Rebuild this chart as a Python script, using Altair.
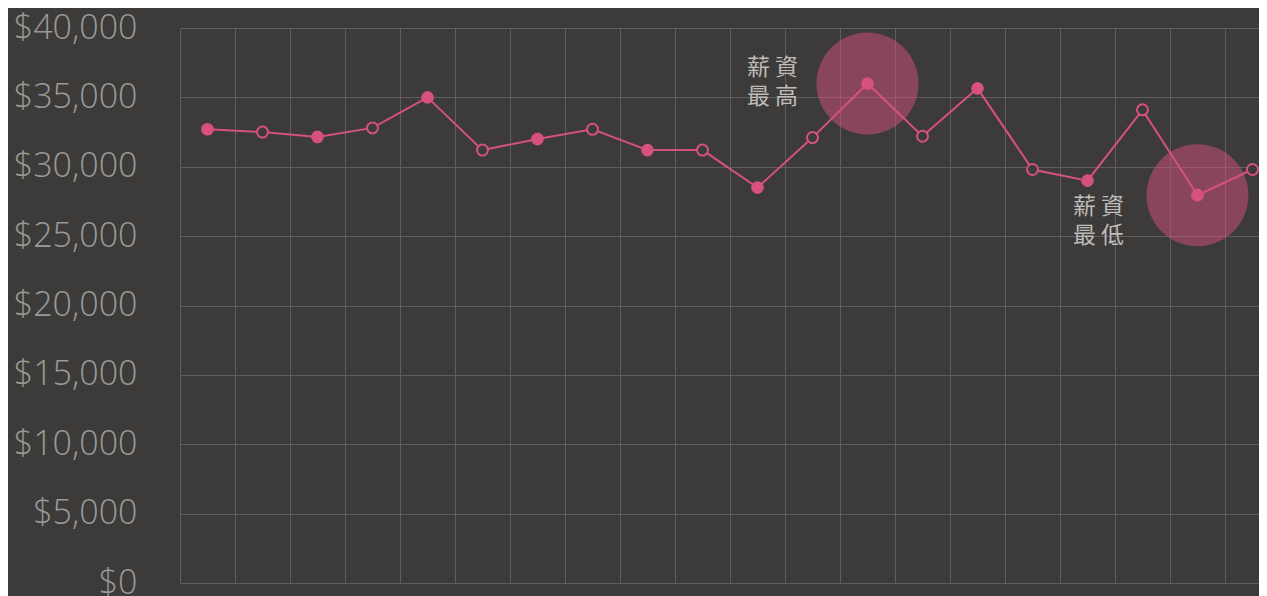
import altair as alt
import pandas as pd

# ---- data ----
periods = list(range(20))
salary = [32700, 32500, 32150, 32800, 35000, 31200, 32000, 32700, 31200, 31200,
          28500, 32100, 36000, 32200, 35650, 29800, 29000, 34100, 27950, 29800]
high_label = "薪 資\n最 高"
low_label = "薪 資\n最 低"

df = pd.DataFrame({"idx": periods, "salary": salary})

BG = "#3d3b39"
PINK = "#d6517e"
GRID = "#605e5c"

PLOT_W = 1079   # visible plot width; each period band is 55 px wide, right edge is cut
BAND = 55

x_enc = alt.X(
    "pos:Q",
    scale=alt.Scale(domain=[0, PLOT_W / BAND], nice=False, zero=False),
    axis=alt.Axis(title=None, labels=False, ticks=False, domain=False,
                  values=periods, grid=True, gridColor=GRID, gridWidth=1),
)
y_enc = alt.Y(
    "salary:Q",
    scale=alt.Scale(domain=[0, 40000]),
    axis=alt.Axis(title=None, values=list(range(0, 40001, 5000)), format="$,.0f",
                  ticks=False, tickSize=0, domain=False, labelPadding=43,
                  labelFont="Open Sans", labelFontWeight=300, labelFontSize=34,
                  labelColor="#9b9a98", grid=True, gridColor=GRID, gridWidth=1),
)

base = alt.Chart(df).transform_calculate(pos="datum.idx + 0.5").encode(x=x_enc, y=y_enc)

ext = base.transform_joinaggregate(smax="max(salary)", smin="min(salary)")

highlight = ext.transform_filter(
    (alt.datum.salary == alt.datum.smax) | (alt.datum.salary == alt.datum.smin)
).mark_circle(size=10400, color=PINK, opacity=0.5)

line = base.mark_line(color=PINK, strokeWidth=2)

filled = base.transform_filter(alt.datum.idx % 2 == 0).mark_circle(
    size=160, color=PINK, opacity=1
)
hollow = base.transform_filter(alt.datum.idx % 2 == 1).mark_point(
    shape="circle", size=121, stroke=PINK, strokeWidth=2, fill=BG, filled=False,
    fillOpacity=1, opacity=1
)

text_style = dict(font="Noto Sans CJK TC", fontSize=23, color="#bebcb9",
                  align="center", baseline="middle", lineBreak="\n", lineHeight=29)

high_text = ext.transform_filter(alt.datum.salary == alt.datum.smax).mark_text(
    dx=-95, dy=-16, **text_style
).encode(text=alt.value(high_label))

low_text = ext.transform_filter(alt.datum.salary == alt.datum.smin).mark_text(
    dx=-99, dy=12, **text_style
).encode(text=alt.value(low_label))

chart = alt.layer(highlight, line, filled, hollow, high_text, low_text).properties(
    width=PLOT_W,
    height=555,
    autosize=alt.AutoSizeParams(type="none"),
    padding={"left": 172, "top": 20, "right": 0, "bottom": 13},
    background=BG,
).configure_view(stroke=None)

chart.save("out.html", embed_options={"renderer": "svg", "actions": False})
